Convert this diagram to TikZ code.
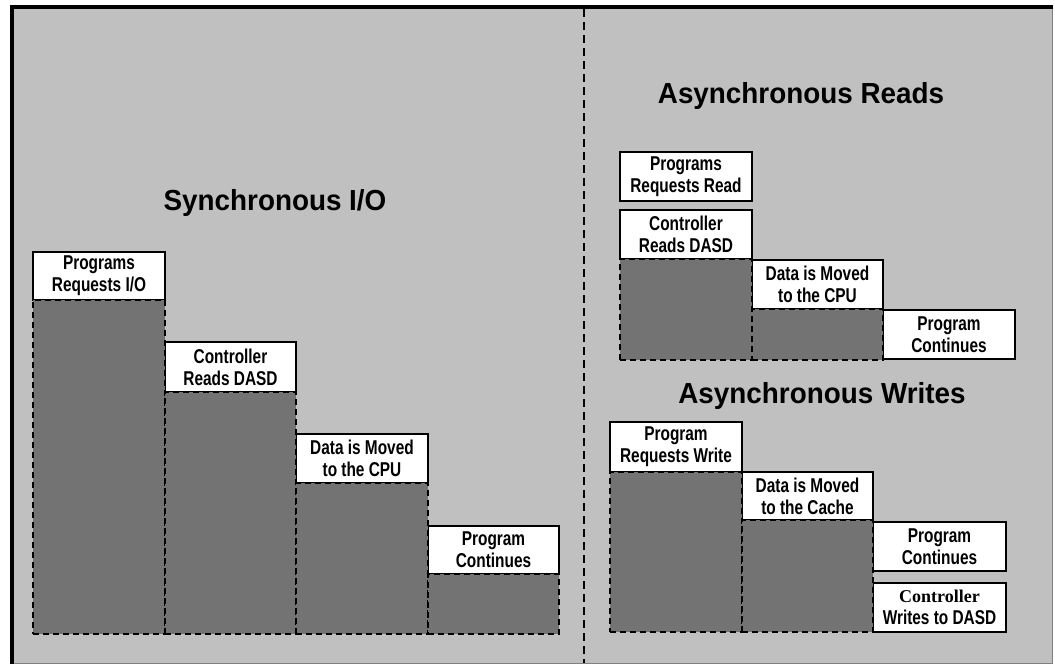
\documentclass[tikz,border=0pt]{standalone}
\usepackage{fontspec}
\setmainfont{Liberation Sans}
\newfontfamily\labfont{Liberation Sans}[FakeStretch=0.77]
\newfontfamily\ttlfont{Liberation Sans}[FakeStretch=0.96]
\newfontfamily\serfont{Liberation Serif}
\usepackage{tikz}
\usetikzlibrary{positioning}

\definecolor{panelgray}{RGB}{192,192,192}
\definecolor{bargray}{RGB}{115,115,115}
\definecolor{edgegray}{RGB}{128,128,128}

\tikzset{
  lab/.style={draw=black, line width=1.4pt, fill=white, anchor=north west, align=center, inner sep=0pt, outer sep=0pt,
    font=\labfont\bfseries\fontsize{20}{22}\selectfont},
  bar/.style={draw=black, line width=1.4pt, dash pattern=on 6pt off 4pt, fill=bargray, inner sep=0pt, outer sep=0pt},
  ttl/.style={anchor=base, inner sep=0pt, font=\ttlfont\bfseries\fontsize{29}{34}\selectfont}
}

\begin{document}
\begin{tikzpicture}[x=1pt,y=-1pt]
  \useasboundingbox (0,0) rectangle (1055,665);
  % frame
  \fill[panelgray] (10,5) rectangle (1053,664);
  \draw[edgegray, line width=1pt] (1052.5,5) -- (1052.5,663.5) -- (10,663.5);
  \draw[black, line width=4pt] (12,664) -- (12,7) -- (1053,7);
  \draw[black, line width=1.8pt, dash pattern=on 8pt off 5pt] (584,9) -- (584,663);

  % titles
  \node [ttl] (syncttl) at (275,210) {Synchronous I/O};
  \node [ttl] (readttl) at (801,103) {Asynchronous Reads};
  \node [ttl] (writettl) at (822,403) {Asynchronous Writes};

  % synchronous I/O
  \node [lab, minimum width=132pt, minimum height=48pt] (sp1) at (33,252) {Programs\\Requests I/O};
  \node [lab, minimum width=131pt, minimum height=50pt] (sp2) at (165,342) {Controller\\Reads DASD};
  \node [lab, minimum width=132pt, minimum height=49pt] (sp3) at (296,434) {Data is Moved\\to the CPU};
  \node [lab, minimum width=131pt, minimum height=48pt] (sp4) at (428,526) {Program\\Continues};

  % asynchronous reads
  \node [lab, minimum width=132pt, minimum height=49pt] (rd1) at (620,152) {Programs\\Requests Read};
  \node [lab, minimum width=132pt, minimum height=49pt] (rd2) at (620,210) {Controller\\Reads DASD};
  \node [lab, minimum width=131pt, minimum height=49pt] (rd3) at (752,260) {Data is Moved\\to the CPU};
  \node [lab, minimum width=132pt, minimum height=49pt] (rd4) at (883,310) {Program\\Continues};

  % asynchronous writes
  \node [lab, minimum width=132pt, minimum height=50pt] (wr1) at (610,422) {Program\\Requests Write};
  \node [lab, minimum width=131pt, minimum height=48pt] (wr2) at (742,472) {Data is Moved\\to the Cache};
  \node [lab, minimum width=133pt, minimum height=49pt] (wr3) at (873,522) {Program\\Continues};
  \node [lab, minimum width=133pt, minimum height=49pt] (wr4) at (873,583) {{\serfont\bfseries\fontsize{18}{22}\selectfont Controller}\\Writes to DASD};

  % bars
  \node [bar, minimum width=132pt, minimum height=334pt, below=0pt of sp1] (sb1) {};
  \node [bar, minimum width=131pt, minimum height=242pt, below=0pt of sp2] (sb2) {};
  \node [bar, minimum width=132pt, minimum height=151pt, below=0pt of sp3] (sb3) {};
  \node [bar, minimum width=131pt, minimum height=60pt, below=0pt of sp4] (sb4) {};
  \node [bar, minimum width=132pt, minimum height=101pt, below=0pt of rd2] (rb2) {};
  \node [bar, minimum width=131pt, minimum height=51pt, below=0pt of rd3] (rb3) {};
  \node [bar, minimum width=132pt, minimum height=160pt, below=0pt of wr1] (wb1) {};
  \node [bar, minimum width=131pt, minimum height=112pt, below=0pt of wr2] (wb2) {};
\end{tikzpicture}
\end{document}
